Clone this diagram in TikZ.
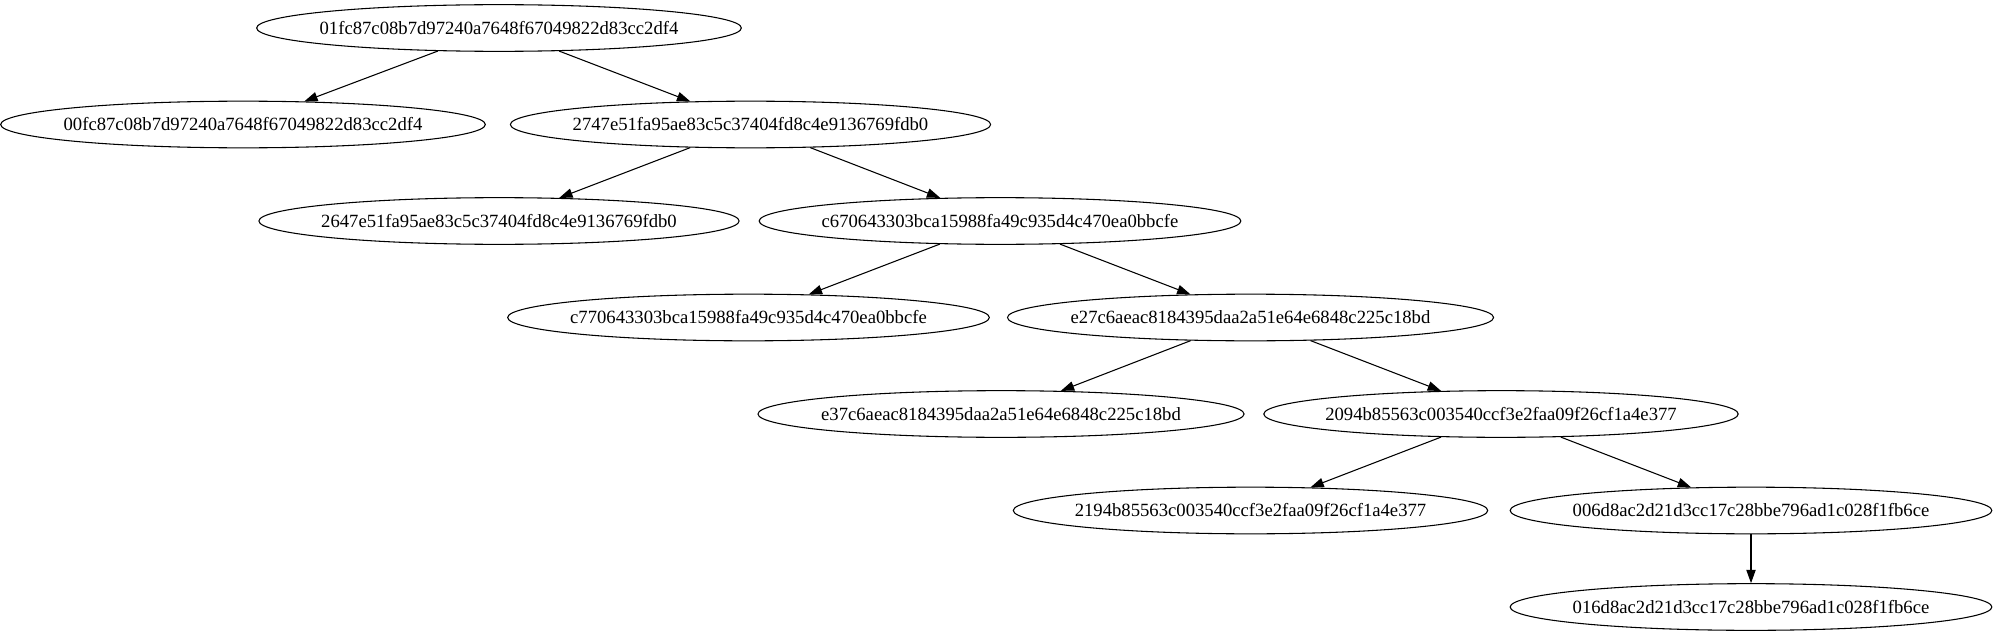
\documentclass[tikz,border=0pt]{standalone}
\usepackage{fontspec}
\setmainfont{Liberation Serif}
\usetikzlibrary{shapes.geometric,arrows.meta}
\begin{document}
\begin{tikzpicture}[x=0.75pt,y=-0.75pt,
  hnode/.style={draw,ellipse,line width=0.8pt,minimum width=0pt,minimum height=35pt,inner xsep=-6pt,inner ysep=0pt,font=\fontsize{14pt}{16pt}\selectfont},
  edge/.style={draw,line width=0.8pt,-{Triangle[length=10pt,width=7pt]}}]
\useasboundingbox (0,0) rectangle (1995,635);
\node[hnode] (n1) at (499,28) {01fc87c08b7d97240a7648f67049822d83cc2df4};
\node[hnode] (n2) at (243,124.5) {00fc87c08b7d97240a7648f67049822d83cc2df4};
\node[hnode] (n3) at (750.5,124.5) {2747e51fa95ae83c5c37404fd8c4e9136769fdb0};
\node[hnode] (n4) at (499,221) {2647e51fa95ae83c5c37404fd8c4e9136769fdb0};
\node[hnode] (n5) at (1000,221) {c670643303bca15988fa49c935d4c470ea0bbcfe};
\node[hnode] (n6) at (748.5,317.5) {c770643303bca15988fa49c935d4c470ea0bbcfe};
\node[hnode] (n7) at (1250.5,317.5) {e27c6aeac8184395daa2a51e64e6848c225c18bd};
\node[hnode] (n8) at (1001,414) {e37c6aeac8184395daa2a51e64e6848c225c18bd};
\node[hnode] (n9) at (1501,414) {2094b85563c003540ccf3e2faa09f26cf1a4e377};
\node[hnode] (n10) at (1250.5,510.5) {2194b85563c003540ccf3e2faa09f26cf1a4e377};
\node[hnode] (n11) at (1751,510.5) {006d8ac2d21d3cc17c28bbe796ad1c028f1fb6ce};
\node[hnode] (n12) at (1751,607) {016d8ac2d21d3cc17c28bbe796ad1c028f1fb6ce};
\path[edge] (n1) -- (n2);
\path[edge] (n1) -- (n3);
\path[edge] (n3) -- (n4);
\path[edge] (n3) -- (n5);
\path[edge] (n5) -- (n6);
\path[edge] (n5) -- (n7);
\path[edge] (n7) -- (n8);
\path[edge] (n7) -- (n9);
\path[edge] (n9) -- (n10);
\path[edge] (n9) -- (n11);
\path[edge] (n11) -- (n12);
\end{tikzpicture}
\end{document}
